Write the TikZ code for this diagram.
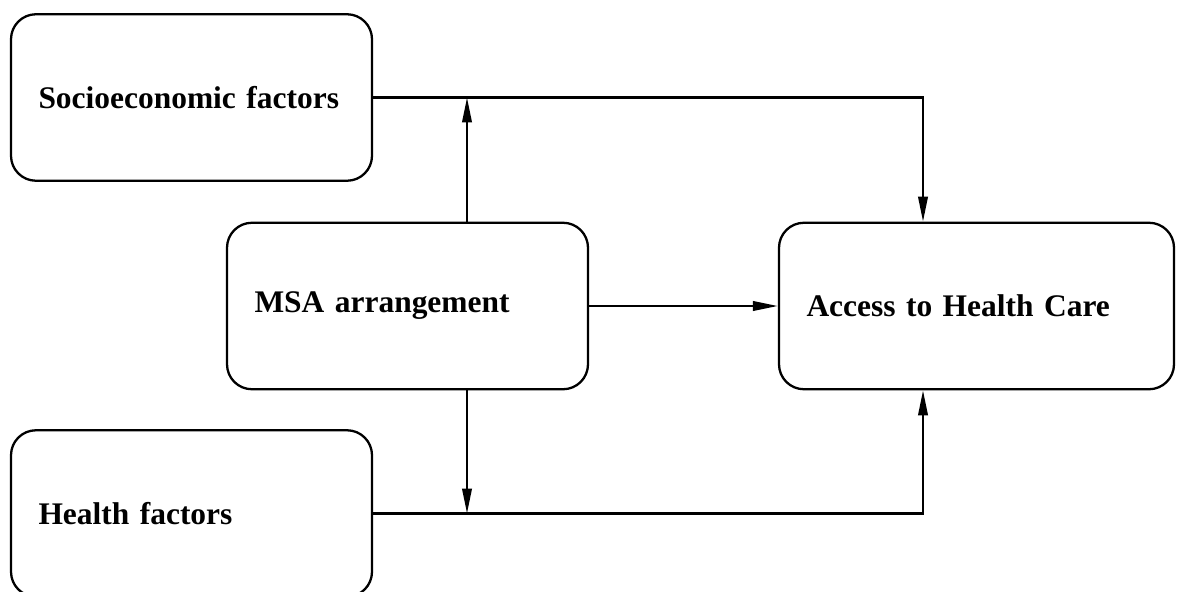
\documentclass[tikz,border=0pt]{standalone}
\usepackage{fontspec}
\setmainfont{Liberation Serif}
\usetikzlibrary{arrows.meta}

\begin{document}
\begin{tikzpicture}[line width=1.3pt, >={Triangle[length=5mm,width=1.9mm]},
  factorbox/.style={draw, rounded corners=0.5cm, inner xsep=0.55cm, minimum height=3.33cm, align=left, font=\fontsize{17.9}{22}\selectfont\bfseries}]

\clip (0, 0) rectangle (23.56, -11.84);

\node[factorbox, text width=6.12cm] (socio) at (3.83, -1.95) {Socioeconomic factors};
\node[factorbox, text width=6.12cm] (msa) at (8.15, -6.12) {MSA arrangement};
\node[factorbox, text width=6.8cm] (access) at (19.53, -6.12) {Access to Health Care};
\node[factorbox, text width=6.12cm] (health) at (3.83, -10.27) {Health factors};

\coordinate (up) at ([xshift=1.19cm]msa.north);
\coordinate (down) at ([xshift=1.19cm]msa.south);

\draw[->] (socio.east) -| ([xshift=-1.07cm]access.north);
\draw[->] (health.east) -| ([xshift=-1.07cm]access.south);
\draw[->] (up) -- (up |- socio.east);
\draw[->] (down) -- (down |- health.east);
\draw[->] (msa.east) -- (access.west);

\end{tikzpicture}
\end{document}
